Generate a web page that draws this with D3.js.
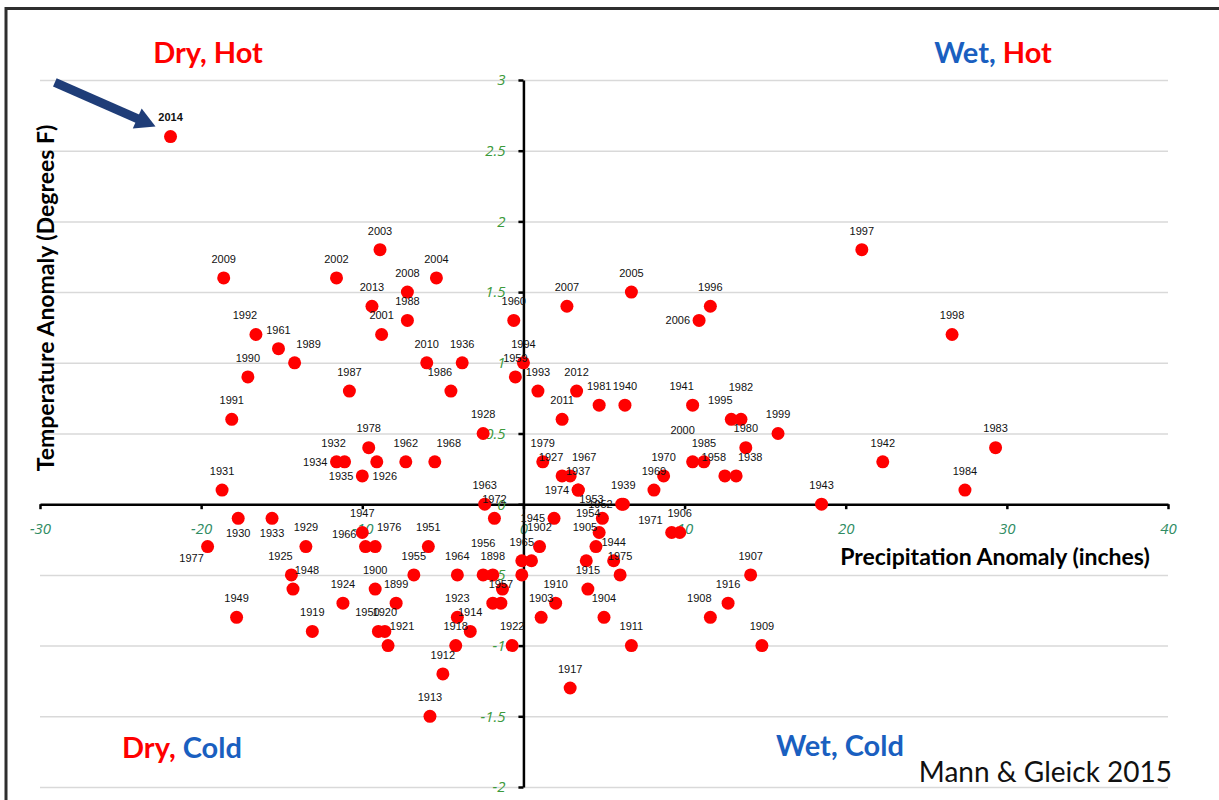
<!DOCTYPE html>
<html>
<head>
<meta charset="utf-8">
<script src="https://cdn.jsdelivr.net/npm/d3@7"></script>
<style>
  body { margin: 0; background: #fff; }
  .grid line { stroke: #d9d9d9; stroke-width: 1.5; }
  .grid path { display: none; }
  .axis path, .axis line { stroke: #000; stroke-width: 2.5; }
  .yr { font-family: "Liberation Sans", Arial, sans-serif; font-size: 11px; fill: #111; }
</style>
</head>
<body>
<script>
// year, precipitation anomaly (inches), temperature anomaly (deg F)
var years = [2014, 2009, 2002, 2003, 2004, 2008, 2013, 1988, 2001, 1992, 1961, 1989, 1990, 1987, 2010, 1936, 1986, 1991, 1928, 1978,
  1934, 1932, 1926, 1962, 1968, 1935, 1931, 1960, 1994, 1959, 2007, 2005, 2006, 1996, 1993, 2012, 1981, 1940, 1941, 2011,
  1995, 1982, 1999, 1980, 1979, 2000, 1985, 1927, 1967, 1970, 1958, 1938, 1937, 1974, 1969, 1939, 1952, 1943, 1997, 1998,
  1983, 1942, 1984, 1963, 1972, 1945, 1930, 1933, 1977, 1929, 1947, 1966, 1976, 1951, 1925, 1948, 1955, 1900, 1924, 1899,
  1949, 1919, 1950, 1920, 1921, 1913, 1964, 1956, 1898, 1902, 1965, null, null, null, 1957, null, 1923, 1914, 1918, 1912,
  1922, 1903, 1910, 1917, 1911, 1904, 1915, null, 1953, 1954, 1905, 1944, 1975, 1971, 1906, 1907, 1916, 1908, 1909];

var precip = [-21.9, -18.6, -11.6, -8.9, -5.4, -7.2, -9.4, -7.2, -8.8, -16.6, -15.2, -14.2, -17.1, -10.8, -6.0, -3.8, -4.5, -18.1, -2.5, -9.6,
  -11.6, -11.1, -9.1, -7.3, -5.5, -10.0, -18.7, -0.6, 0.0, -0.5, 2.7, 6.7, 10.9, 11.6, 0.9, 3.3, 4.7, 6.3, 10.5, 2.4,
  12.9, 13.5, 15.8, 13.8, 1.2, 10.5, 11.2, 2.4, 2.9, 8.7, 12.5, 13.2, 3.4, 3.4, 8.1, 6.2, 6.1, 18.5, 21.0, 26.6,
  29.3, 22.3, 27.4, -2.4, -1.8, 1.9, -17.7, -15.6, -19.6, -13.5, -10.0, -9.8, -9.2, -5.9, -14.4, -14.3, -6.8, -9.2, -11.2, -7.9,
  -17.8, -13.1, -9.0, -8.6, -8.4, -5.8, -4.1, -2.5, -1.9, 1.0, -0.1, 0.5, -0.1, -1.3, -1.4, -1.9, -4.1, -3.3, -4.2, -5.0,
  -0.7, 1.1, 2.0, 2.9, 6.7, 5.0, 4.0, 3.9, 4.9, 4.7, 4.5, 5.6, 6.0, 9.2, 9.7, 14.1, 12.7, 11.6, 14.8];

var temp = [2.6, 1.6, 1.6, 1.8, 1.6, 1.5, 1.4, 1.3, 1.2, 1.2, 1.1, 1.0, 0.9, 0.8, 1.0, 1.0, 0.8, 0.6, 0.5, 0.4,
  0.3, 0.3, 0.3, 0.3, 0.3, 0.2, 0.1, 1.3, 1.0, 0.9, 1.4, 1.5, 1.3, 1.4, 0.8, 0.8, 0.7, 0.7, 0.7, 0.6,
  0.6, 0.6, 0.5, 0.4, 0.3, 0.3, 0.3, 0.2, 0.2, 0.2, 0.2, 0.2, 0.1, 0.1, 0.1, 0.0, 0.0, 0.0, 1.8, 1.2,
  0.4, 0.3, 0.1, 0.0, -0.1, -0.1, -0.1, -0.1, -0.3, -0.3, -0.2, -0.3, -0.3, -0.3, -0.5, -0.6, -0.5, -0.6, -0.7, -0.7,
  -0.8, -0.9, -0.9, -0.9, -1.0, -1.5, -0.5, -0.5, -0.5, -0.3, -0.4, -0.4, -0.5, -0.6, -0.7, -0.7, -0.8, -0.9, -1.0, -1.2,
  -1.0, -0.8, -0.7, -1.3, -1.0, -0.8, -0.6, -0.4, -0.1, -0.2, -0.3, -0.4, -0.5, -0.2, -0.2, -0.5, -0.7, -0.8, -1.0];

var xTicks = [-30, -20, -10, 0, 10, 20, 30, 40];
var yTicks = [-2, -1.5, -1, -0.5, 0, 0.5, 1, 1.5, 2, 2.5, 3];

// where the year label sits next to its dot (default: above)
var labelSide = {
  1992: "tl", 1989: "tr", 1986: "tl", 1934: "l", 1932: "tl", 1968: "tr", 1926: "br", 1935: "l",
  2006: "l", 1941: "tl", 1995: "tl", 1982: "tt", 1927: "tl", 1967: "tr", 2000: "ttl", 1958: "tl",
  1938: "tr", 1974: "l", 1952: "l", 1945: "l", 1930: "b", 1933: "b", 1977: "bl", 1966: "lt",
  1976: "tr", 1925: "tl", 1948: "tr", 1950: "tl", 1921: "tr", 1956: "tt", 1953: "tl", 1954: "tl",
  1905: "tl", 1971: "lt", 1908: "tl"
};
var sideOffset = {
  t: [0, -19, "middle"], tt: [0, -32, "middle"], tl: [-11, -19, "middle"], tr: [14, -19, "middle"],
  ttl: [-10, -32, "middle"], l: [-9, 0, "end"], lt: [-9, -12, "end"], b: [0, 15, "middle"],
  bl: [-16, 12, "middle"], br: [8, 14, "middle"]
};

var points = years.map(function(d, i) { return {year: d, p: precip[i], t: temp[i]}; });

var width = 1219, height = 800;

var x = d3.scaleLinear().domain([-30, 40]).range([40, 1168]);
var y = d3.scaleLinear().domain([-2, 3]).range([787, 80]);

function plain(d) { return String(d); }   // "-0.5", not "−0.5" / "3.0"

var svg = d3.select("body").append("svg")
    .attr("width", width)
    .attr("height", height);

svg.append("rect").attr("width", width).attr("height", height).attr("fill", "#fff");

// frame of the original picture
svg.append("path")
    .attr("d", "M6,800 L6,8.5 L1219,8.5")
    .attr("fill", "none")
    .attr("stroke", "#2e2e2e")
    .attr("stroke-width", 3);

// horizontal gridlines
svg.append("g")
    .attr("class", "grid")
    .attr("transform", "translate(" + x(-30) + ",0)")
    .call(d3.axisLeft(y).tickValues(yTicks).tickSize(-(x(40) - x(-30))).tickFormat(""));

// x axis through y = 0
var xAxis = svg.append("g")
    .attr("class", "axis")
    .attr("transform", "translate(0," + y(0) + ")")
    .call(d3.axisBottom(x).tickValues(xTicks).tickFormat(plain).tickSize(5).tickSizeOuter(0).tickPadding(14));

xAxis.selectAll("text")
    .style("font-family", "'Open Sans', sans-serif")
    .style("font-style", "italic")
    .style("font-size", "15px")
    .attr("fill", "#2f8c63");

// y axis through x = 0
var yAxis = svg.append("g")
    .attr("class", "axis")
    .attr("transform", "translate(" + x(0) + ",0)")
    .call(d3.axisLeft(y).tickValues(yTicks).tickFormat(plain).tickSize(5).tickSizeOuter(0).tickPadding(13));

yAxis.selectAll("text")
    .style("font-family", "'Open Sans', sans-serif")
    .style("font-style", "italic")
    .style("font-size", "15px")
    .attr("fill", "#3c9a3c");

// axis titles
svg.append("text")
    .attr("transform", "translate(54,298) rotate(-90)")
    .attr("text-anchor", "middle")
    .style("font-family", "Lato, sans-serif")
    .style("font-weight", "bold")
    .style("font-size", "23px")
    .text("Temperature Anomaly (Degrees F)");

svg.append("text")
    .attr("x", 995)
    .attr("y", 565)
    .attr("text-anchor", "middle")
    .style("font-family", "Lato, sans-serif")
    .style("font-weight", "bold")
    .style("font-size", "23px")
    .text("Precipitation Anomaly (inches)");

// dots
svg.append("g").selectAll("circle")
    .data(points)
  .enter().append("circle")
    .attr("cx", function(d) { return x(d.p); })
    .attr("cy", function(d) { return y(d.t); })
    .attr("r", 6.5)
    .attr("fill", "#ff0000");

// year labels
svg.append("g").selectAll("text")
    .data(points.filter(function(d) { return d.year; }))
  .enter().append("text")
    .attr("class", "yr")
    .each(function(d) {
      var o = sideOffset[labelSide[d.year] || "t"];
      d3.select(this)
        .attr("x", x(d.p) + o[0])
        .attr("y", y(d.t) + o[1])
        .attr("dy", "0.35em")
        .attr("text-anchor", o[2]);
    })
    .style("font-weight", function(d) { return d.year === 2014 ? "bold" : null; })
    .text(function(d) { return d.year; });

// arrow pointing at 2014
var hot = points.find(function(d) { return d.year === 2014; });
var tipX = x(hot.p) - 15, tipY = y(hot.t) - 10;
var ang = Math.atan2(44, 100);
var ux = Math.cos(ang), uy = Math.sin(ang);
var baseX = tipX - ux * 20, baseY = tipY - uy * 20;
svg.append("line")
    .attr("x1", tipX - ux * 110).attr("y1", tipY - uy * 110)
    .attr("x2", baseX + ux * 2).attr("y2", baseY + uy * 2)
    .attr("stroke", "#1f3d78")
    .attr("stroke-width", 9);
svg.append("polygon")
    .attr("points", [
      [tipX, tipY],
      [baseX - uy * 11, baseY + ux * 11],
      [baseX + uy * 11, baseY - ux * 11]
    ].map(function(p) { return p.join(","); }).join(" "))
    .attr("fill", "#1f3d78");

// quadrant labels
var red = "#ff0000", blue = "#1a5fc0";
var quads = [
  {x: 208, y: 63, parts: [["Dry, ", red], ["Hot", red]]},
  {x: 993, y: 63, parts: [["Wet, ", blue], ["Hot", red]]},
  {x: 182, y: 758, parts: [["Dry, ", red], ["Cold", blue]]},
  {x: 840, y: 756, parts: [["Wet, ", blue], ["Cold", blue]]}
];
quads.forEach(function(q) {
  var t = svg.append("text")
      .attr("x", q.x)
      .attr("y", q.y)
      .attr("text-anchor", "middle")
      .style("font-family", "Lato, sans-serif")
      .style("font-weight", "bold")
      .style("font-size", "29px");
  q.parts.forEach(function(p) {
    t.append("tspan").attr("fill", p[1]).text(p[0]);
  });
});

svg.append("text")
    .attr("x", 1172)
    .attr("y", 782)
    .attr("text-anchor", "end")
    .style("font-family", "Lato, sans-serif")
    .style("font-size", "28px")
    .attr("fill", "#111")
    .text("Mann & Gleick 2015");
</script>
</body>
</html>
